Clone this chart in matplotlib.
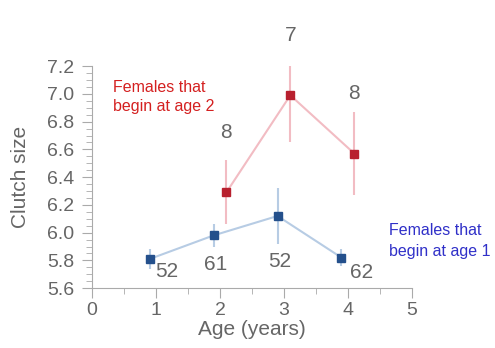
import matplotlib
matplotlib.use("Agg")
import matplotlib.pyplot as plt
from matplotlib.ticker import MultipleLocator

# Clutch size by age, two groups of females
age_early = [0.9, 1.9, 2.9, 3.9]
clutch_early = [5.81, 5.98, 6.12, 5.82]
err_early = [0.07, 0.08, 0.2, 0.06]
n_early = ["52", "61", "52", "62"]

age_late = [2.1, 3.1, 4.1]
clutch_late = [6.29, 6.99, 6.57]
err_late = [0.23, 0.34, 0.3]
n_late = ["8", "7", "8"]

plt.rcParams['font.family'] = ['Liberation Sans', 'DejaVu Sans']
grey = '#666666'

fig = plt.figure(figsize=(4.95, 3.48), dpi=100)
ax = fig.add_axes([0.186, 0.172, 0.646, 0.638])

ax.errorbar(age_early, clutch_early, yerr=err_early, color='#b7cce4', lw=1.5,
            marker='s', ms=6, mfc='#24508c', mec='#24508c', capsize=0, zorder=3)
ax.errorbar(age_late, clutch_late, yerr=err_late, color='#f2bcc3', lw=1.5,
            marker='s', ms=6, mfc='#b8202e', mec='#b8202e', capsize=0, zorder=3)

# sample sizes
n_offsets = [(0.27, -0.09), (0.03, -0.21), (0.03, -0.33), (0.32, -0.11)]
for (x, y, n), (dx, dy) in zip(zip(age_early, clutch_early, n_early), n_offsets):
    ax.text(x + dx, y + dy, n, ha='center', va='center', fontsize=15,
            color=grey, clip_on=False)
for x, y, n in zip(age_late, clutch_late, n_late):
    ax.text(x, y + 0.43, n, ha='center', va='center', fontsize=15,
            color=grey, clip_on=False)

ax.text(0.33, 7.1, "Females that\nbegin at age 2", color='#d42020', fontsize=11.5,
        va='top', linespacing=1.35)
ax.text(4.65, 6.07, "Females that\nbegin at age 1", color='#3030c8', fontsize=11.5,
        va='top', linespacing=1.5, clip_on=False)

ax.set_xlim(0, 5)
ax.set_ylim(5.6, 7.2)
ax.xaxis.set_major_locator(MultipleLocator(1))
ax.xaxis.set_minor_locator(MultipleLocator(0.5))
ax.yaxis.set_major_locator(MultipleLocator(0.2))
ax.yaxis.set_minor_locator(MultipleLocator(0.05))
ax.yaxis.set_major_formatter(plt.FormatStrFormatter('%.1f'))

for s in ['top', 'right']:
    ax.spines[s].set_visible(False)
for s in ['left', 'bottom']:
    ax.spines[s].set_color('#aaaaaa')
ax.tick_params(which='both', direction='out', colors='#aaaaaa', labelcolor=grey,
               labelsize=14)
ax.tick_params(which='major', length=7)
ax.tick_params(which='minor', length=4)
ax.tick_params(axis='y', pad=6)
ax.tick_params(axis='x', pad=3)

ax.set_xlabel("Age (years)", fontsize=15, color=grey, labelpad=1)
ax.set_ylabel("Clutch size", fontsize=15, color=grey, labelpad=12)

fig.savefig("out.png", dpi=100)
